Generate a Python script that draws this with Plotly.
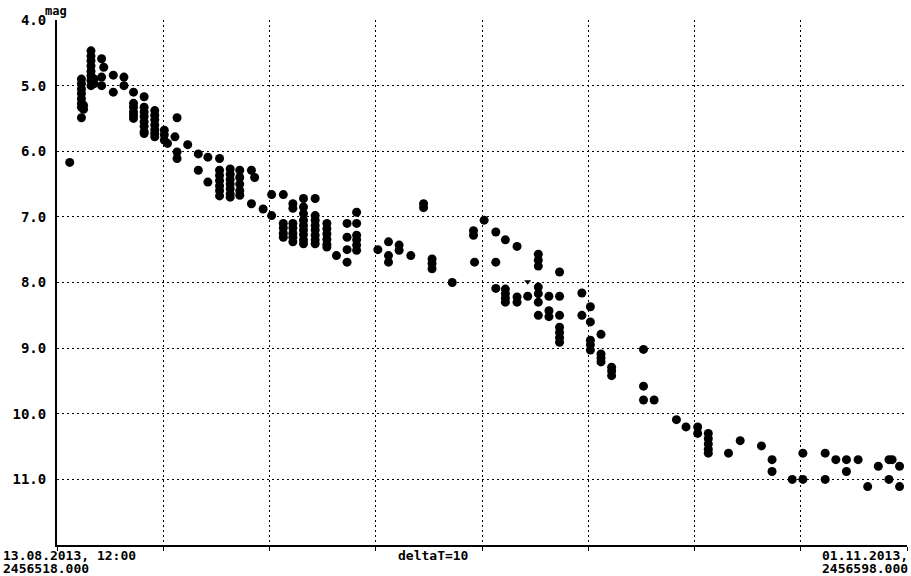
import plotly.graph_objects as go

JD0 = 2456518.0
JD1 = 2456598.0

# nights (days after JD0) and the magnitudes measured on each night
night_day = [1.2, 2.3, 2.5, 3.2, 3.5, 4.2, 4.4, 5.3, 6.3, 7.2, 8.2, 9.2, 10.1, 10.4,
             11.1, 11.3, 12.3, 13.3, 14.2, 15.3, 16.3, 17.2, 18.3, 18.6, 19.4, 20.2,
             21.3, 22.2, 23.2, 24.3, 25.4, 26.3, 27.3, 28.2, 30.2, 31.2, 32.2, 33.3,
             34.5, 35.3, 37.2, 39.2, 39.3, 40.2, 41.3, 42.2, 43.3, 44.3, 45.3, 46.3,
             47.3, 49.4, 50.2, 51.2, 52.2, 55.2, 56.2, 58.3, 59.2, 60.3, 61.3, 63.2,
             64.3, 66.3, 67.3, 69.2, 70.2, 72.3, 73.3, 74.3, 75.4, 76.3, 77.3, 78.3,
             78.6, 79.3]
night_mag = [
    [6.17],
    [4.9, 4.97, 5.05, 5.12, 5.2, 5.27, 5.33, 5.49],
    [5.3, 5.36],
    [4.47, 4.55, 4.62, 4.7, 4.78, 4.85, 4.92, 5.0],
    [4.9, 4.97],
    [4.59, 4.87, 5.0],
    [4.72],
    [4.84, 5.1],
    [4.87, 5.0],
    [5.1, 5.27, 5.33, 5.4, 5.45, 5.5],
    [5.17, 5.33, 5.4, 5.47, 5.55, 5.62, 5.7, 5.73],
    [5.38, 5.45, 5.52, 5.6, 5.67, 5.73, 5.78],
    [5.68, 5.75, 5.83],
    [5.88],
    [5.78],
    [5.49, 6.01, 6.11],
    [5.9],
    [6.04, 6.29],
    [6.09, 6.47],
    [6.11, 6.29, 6.37, 6.45, 6.53, 6.6, 6.68],
    [6.27, 6.35, 6.43, 6.5, 6.57, 6.65, 6.7],
    [6.29, 6.4, 6.5, 6.6, 6.67],
    [6.29, 6.8],
    [6.4],
    [6.88],
    [6.66, 6.98],
    [6.66, 7.1, 7.17, 7.25, 7.31],
    [6.8, 6.87, 7.1, 7.17, 7.25, 7.31, 7.38],
    [6.72, 6.85, 6.95, 7.05, 7.13, 7.2, 7.27, 7.35, 7.41],
    [6.72, 6.98, 7.05, 7.13, 7.2, 7.28, 7.35, 7.41],
    [7.1, 7.18, 7.26, 7.34, 7.42, 7.46],
    [7.59],
    [7.1, 7.31, 7.5, 7.69],
    [6.93, 7.1, 7.28, 7.35, 7.43, 7.51],
    [7.5],
    [7.38, 7.59, 7.69],
    [7.43, 7.51],
    [7.59],
    [6.8, 6.86],
    [7.64, 7.71, 7.79],
    [8.0],
    [7.21, 7.28],
    [7.69],
    [7.05],
    [7.23, 7.69, 8.09],
    [7.35, 8.1, 8.17, 8.24, 8.3],
    [7.45, 8.22, 8.3],
    [8.21],
    [7.57, 7.66, 7.75, 8.07, 8.17, 8.3, 8.5],
    [8.21, 8.43, 8.52],
    [7.84, 8.21, 8.5, 8.68, 8.76, 8.84, 8.91],
    [8.16, 8.5],
    [8.37, 8.6, 8.88, 8.95, 9.03],
    [8.79, 9.09, 9.15, 9.21],
    [9.29, 9.35, 9.42],
    [9.02, 9.58, 9.79],
    [9.79],
    [10.09],
    [10.2],
    [10.2, 10.3],
    [10.3, 10.38, 10.46, 10.54, 10.6],
    [10.6],
    [10.41],
    [10.49],
    [10.7, 10.88],
    [11.0],
    [11.0, 10.6],
    [10.6, 11.0],
    [10.7],
    [10.7, 10.88],
    [10.7],
    [11.11],
    [10.8],
    [10.7, 11.0],
    [10.7],
    [10.8, 11.11],
]
# one odd estimate drawn with a small triangle
tri_day = [44.3]
tri_mag = [7.99]

y_tickvals = [4, 5, 6, 7, 8, 9, 10, 11]
y_ticktext = ["4.0", "5.0", "6.0", "7.0", "8.0", "9.0", "10.0", "11.0"]

xs, ys = [], []
for d, mags in zip(night_day, night_mag):
    for m in mags:
        xs.append(JD0 + d)
        ys.append(m)

FONT = "DejaVu Sans Mono"

fig = go.Figure()
fig.add_trace(go.Scatter(x=xs, y=ys, mode="markers",
                         marker=dict(symbol="circle", size=9, color="black",
                                     line=dict(width=0)),
                         showlegend=False, hoverinfo="x+y", cliponaxis=False))
fig.add_trace(go.Scatter(x=[JD0 + d for d in tri_day], y=tri_mag, mode="markers",
                         marker=dict(symbol="triangle-down", size=6, color="black"),
                         showlegend=False))

grid = dict(showgrid=True, gridcolor="black", gridwidth=1, griddash="2px,3px")

fig.update_xaxes(range=[JD0, JD1], tick0=JD0, dtick=10, showticklabels=False,
                 ticks="outside", ticklen=4, tickcolor="black", tickwidth=1,
                 showline=True, linecolor="black", linewidth=2, zeroline=False,
                 mirror=False, **grid)
fig.update_yaxes(range=[12, 4], tickvals=y_tickvals, ticktext=y_ticktext,
                 ticks="", showline=True, linecolor="black", linewidth=2,
                 zeroline=False, ticklabelstandoff=6,
                 tickfont=dict(family=FONT, size=14, color="black", weight="bold"),
                 **grid)

W, H = 911, 576
L, R, T, B = 57, 4, 20, 31
pw, ph = W - L - R, H - T - B


def px(xp):
    return (xp - L) / pw


def py(yp):
    return (H - B - yp) / ph


lab = dict(family=FONT, size=13, color="black", weight="bold")
ann = [
    dict(text="mag", x=px(56), y=py(11), xref="paper", yref="paper",
         showarrow=False, xanchor="center", yanchor="middle",
         font=dict(family=FONT, size=12, color="black", weight="bold")),
    dict(text="13.08.2013, 12:00", x=px(2), y=py(555), xref="paper", yref="paper",
         showarrow=False, xanchor="left", yanchor="middle", font=lab),
    dict(text="2456518.000", x=px(2), y=py(568.5), xref="paper", yref="paper",
         showarrow=False, xanchor="left", yanchor="middle", font=lab),
    dict(text="deltaT=10", x=px(433), y=py(555), xref="paper", yref="paper",
         showarrow=False, xanchor="center", yanchor="middle", font=lab),
    dict(text="01.11.2013,", x=px(909), y=py(555), xref="paper", yref="paper",
         showarrow=False, xanchor="right", yanchor="middle", font=lab),
    dict(text="2456598.000", x=px(909), y=py(568.5), xref="paper", yref="paper",
         showarrow=False, xanchor="right", yanchor="middle", font=lab),
]
for a in ann:
    a["borderpad"] = 0

fig.update_layout(width=W, height=H,
                  margin=dict(l=L, r=R, t=T, b=B, pad=0, autoexpand=False),
                  paper_bgcolor="white", plot_bgcolor="white",
                  annotations=ann, showlegend=False)

fig.write_html("out.html", config={"displayModeBar": False},
               post_script="document.body.style.margin='0';document.body.style.overflow='hidden';")
